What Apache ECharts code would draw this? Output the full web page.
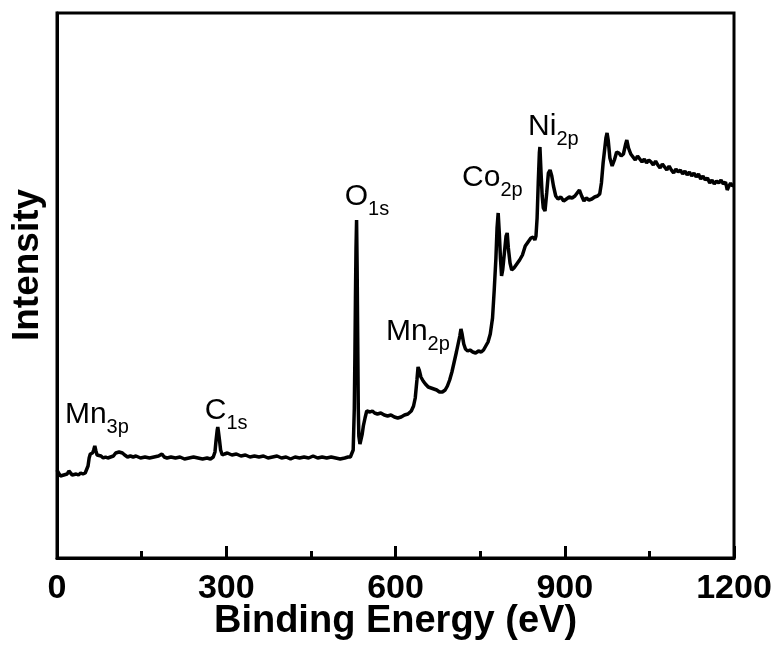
<!DOCTYPE html>
<html>
<head>
<meta charset="utf-8">
<title>XPS survey</title>
<style>
  html, body { margin: 0; padding: 0; background: #fff; }
  #main { width: 780px; height: 645px; }
</style>
<script src="https://cdn.jsdelivr.net/npm/echarts@6/dist/echarts.min.js"></script>
</head>
<body>
<div id="main"></div>
<script>
// binding energy (eV), intensity (a.u.)
var spectrum = [
  [0,88],[3,85],[6,82],[9,81],[12,83],[15,82],[18,84],[21,87],[24,86],[27,83],[30,82],[34,84],[38,83],[42,85],[46,84],[50,85],
  [53,86],[55,92],[57,100],[59,104],[61,106],[63,105],[65,108],[67,112],[69,107],[71,103],[74,101],[78,102],[82,100],[86,101],
  [90,100],[95,101],[100,102],[104,105],[107,107],[110,106],[113,104],[116,105],[120,103],[125,101],[130,102],[135,101],[140,102],
  [148,100],[156,101],[164,100],[172,101],[180,102],[186,104],[190,101],[195,100],[202,101],[210,100],[218,101],[226,99],[234,100],
  [242,101],[250,100],[258,99],[266,100],[272,99],[277,101],[280,106],[282,118],[284,128],[285,131],[286,127],[288,118],[290,108],
  [293,103],[297,104],[302,105],[310,103],[318,104],[326,102],[334,103],[342,101],[350,102],[358,101],[366,102],[374,100],[382,101],
  [390,102],[398,100],[406,101],[414,99],[422,101],[430,100],[438,101],[446,100],[454,102],[462,100],[470,101],[478,100],[486,101],
  [494,100],[502,99],[510,100],[516,101],[520,101],[523,103],[525,108],[527,150],[528,200],[529,260],[530,310],[531,338],[532,290],
  [533,220],[534,150],[535,122],[537,114],[539,116],[541,124],[543,132],[546,140],[549,147],[552,148],[555,146],[559,147],[563,145],
  [568,144],[574,145],[580,143],[586,142],[592,143],[598,141],[604,140],[610,141],[616,143],[622,144],[628,147],[632,152],[635,160],
  [638,178],[640,191],[642,188],[645,181],[649,177],[653,174],[658,171],[663,170],[668,169],[673,168],[678,166],[683,166],[688,168],
  [692,172],[696,178],[700,186],[704,196],[708,206],[711,214],[714,222],[716,229],[718,224],[721,214],[724,209],[728,207],[732,208],
  [737,206],[742,205],[747,207],[752,206],[756,208],[760,212],[764,216],[768,224],[772,240],[775,268],[778,300],[780,330],[782,345],
  [784,325],[786,300],[788,282],[790,288],[793,305],[796,322],[798,325],[800,310],[803,295],[806,288],[810,290],[815,294],[820,298],
  [825,303],[830,312],[835,316],[840,320],[844,321],[847,318],[849,322],[851,340],[853,375],[855,405],[856,411],[858,385],[860,362],
  [862,350],[865,347],[868,365],[871,385],[874,388],[877,382],[880,372],[884,362],[888,359],[893,361],[898,357],[903,359],[908,361],
  [913,360],[918,362],[922,365],[926,368],[930,362],[934,357],[938,360],[943,358],[948,359],[953,361],[958,362],[962,364],[965,375],
  [968,395],[971,410],[973,420],[975,425],[977,418],[980,400],[984,392],[988,398],[992,406],[996,405],[1000,402],[1004,404],[1008,414],
  [1010,418],[1013,410],[1017,404],[1021,401],[1025,398],[1029,402],[1033,399],[1037,396],[1041,399],[1045,395],[1049,398],[1053,396],
  [1057,393],[1061,397],[1065,393],[1069,390],[1073,394],[1077,391],[1081,388],[1085,392],[1089,388],[1093,385],[1097,389],[1101,386],
  [1105,388],[1109,384],[1113,387],[1117,383],[1121,386],[1125,382],[1129,385],[1133,381],[1137,384],[1141,379],[1145,382],[1149,378],
  [1153,380],[1157,375],[1161,378],[1165,374],[1169,377],[1173,375],[1177,378],[1181,374],[1185,376],[1188,368],[1191,372],[1194,375],
  [1197,372],[1200,373]
];

// peak labels: element, subscript, anchor [eV, intensity]
var peakNames = ['Mn', 'C', 'O', 'Mn', 'Co', 'Ni'];
var peakSubs = ['3p', '1s', '1s', '2p', '2p', '2p'];
var peakAnchors = [[14,143],[262,147],[510,361],[583,226],[718,380],[835,431]];

var xTicks = [0, 300, 600, 900, 1200];

var chart = echarts.init(document.getElementById('main'));

var marks = peakNames.map(function (n, i) {
  return {
    coord: peakAnchors[i],
    value: '{a|' + n + '}{b|' + peakSubs[i] + '}'
  };
});

var FONT = 'Liberation Sans, Arial, sans-serif';

chart.setOption({
  animation: false,
  backgroundColor: '#fff',
  grid: {
    left: 57, right: 46, top: 13, bottom: 87,
    outerBoundsMode: 'none',
    show: true, borderColor: '#000', borderWidth: 3
  },
  xAxis: {
    type: 'value',
    min: 0, max: 1200, interval: 300,
    axisLine: { lineStyle: { color: '#000', width: 3 } },
    axisTick: { inside: true, length: 12, lineStyle: { color: '#000', width: 3 } },
    minorTick: { show: true, splitNumber: 2, length: 7, lineStyle: { color: '#000', width: 3 } },
    splitLine: { show: false },
    axisLabel: {
      color: '#000', fontSize: 34, fontWeight: 'bold', fontFamily: FONT,
      margin: 14,
      formatter: function (v) { return xTicks.indexOf(v) >= 0 ? String(v) : ''; }
    },
    name: 'Binding Energy (eV)',
    nameLocation: 'middle',
    nameGap: 45,
    nameMoveOverlap: false,
    nameTextStyle: { color: '#000', fontSize: 38, fontWeight: 'bold', fontFamily: FONT }
  },
  yAxis: {
    type: 'value',
    min: 0, max: 545,
    axisLine: { show: true, lineStyle: { color: '#000', width: 3 } },
    axisTick: { show: false },
    axisLabel: { show: false },
    splitLine: { show: false }
  },
  graphic: [{
    type: 'text',
    x: 28, y: 265,
    rotation: Math.PI / 2,
    style: {
      text: 'Intensity',
      fill: '#000', fontSize: 37, fontWeight: 'bold', fontFamily: FONT,
      textAlign: 'center', textVerticalAlign: 'middle'
    }
  }],
  series: [{
    type: 'line',
    data: spectrum,
    showSymbol: false,
    lineStyle: { color: '#000', width: 3.5 },
    markPoint: {
      symbol: 'circle', symbolSize: 0,
      label: {
        show: true,
        position: 'inside',
        align: 'left',
        verticalAlign: 'middle',
        formatter: function (p) { return p.value; },
        rich: {
          a: { fontSize: 30, color: '#000', fontFamily: FONT },
          b: { fontSize: 20, color: '#000', fontFamily: FONT, padding: [24, 0, 0, 0] }
        }
      },
      data: marks
    }
  }]
});
</script>
</body>
</html>
